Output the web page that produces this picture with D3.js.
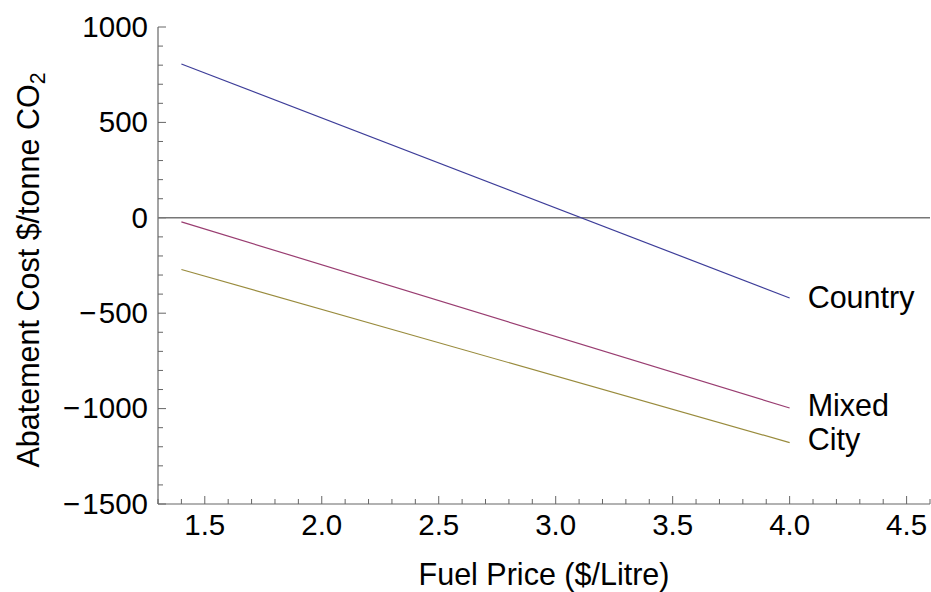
<!DOCTYPE html>
<html>
<head>
<meta charset="utf-8">
<script src="https://cdn.jsdelivr.net/npm/d3@7"></script>
<style>
  html, body { margin: 0; padding: 0; background: #fff; }
  svg { display: block; font-family: "Liberation Sans", Arial, sans-serif; }
</style>
</head>
<body>
<svg id="chart" width="931" height="592"></svg>
<script>
// Abatement cost against fuel price for three driving cycles
const fuelPrice = [1.4, 4.0];
const countryCost = [806, -420];
const mixedCost = [-21, -997];
const cityCost = [-271, -1178];
const seriesNames = ["Country", "Mixed", "City"];
const seriesColors = ["#3d3d99", "#993d71", "#998b3d"];

const xTicks = [1.5, 2.0, 2.5, 3.0, 3.5, 4.0, 4.5];
const yTicks = [1000, 500, 0, -500, -1000, -1500];

const svg = d3.select("#chart");
const x = d3.scaleLinear().domain([1.3, 4.6]).range([158, 930]);
const y = d3.scaleLinear().domain([-1500, 1000]).range([504, 27]);

const axisColor = "#666";
const tickFont = 29.5;
const labelFont = 30.5;

// minor ticks
const xMinor = d3.range(13, 47).map(v => v / 10).filter(v => Math.abs(v * 2 - Math.round(v * 2)) > 1e-9);
const yMinor = d3.range(-1500, 1001, 100).filter(v => v % 500 !== 0);

// x axis
const gx = svg.append("g").attr("transform", `translate(0,${y(-1500)})`);
gx.append("line").attr("x1", x(1.3)).attr("x2", x(4.6)).attr("stroke", axisColor).attr("stroke-width", 1.2);
gx.selectAll("line.major").data(xTicks).join("line")
  .attr("x1", d => x(d)).attr("x2", d => x(d)).attr("y1", 0).attr("y2", -8)
  .attr("stroke", axisColor).attr("stroke-width", 1);
gx.selectAll("line.minor").data(xMinor).join("line")
  .attr("x1", d => x(d)).attr("x2", d => x(d)).attr("y1", 0).attr("y2", -5)
  .attr("stroke", axisColor).attr("stroke-width", 1);
gx.selectAll("text").data(xTicks).join("text")
  .attr("x", d => x(d)).attr("y", 31)
  .attr("text-anchor", "middle")
  .attr("font-size", tickFont)
  .text(d => d3.format(".1f")(d));

// y axis
const gy = svg.append("g").attr("transform", `translate(${x(1.3)},0)`);
gy.append("line").attr("y1", y(-1500)).attr("y2", y(1000)).attr("stroke", axisColor).attr("stroke-width", 1.2);
gy.selectAll("line.major").data(yTicks).join("line")
  .attr("y1", d => y(d)).attr("y2", d => y(d)).attr("x1", 0).attr("x2", 8)
  .attr("stroke", axisColor).attr("stroke-width", 1);
gy.selectAll("line.minor").data(yMinor).join("line")
  .attr("y1", d => y(d)).attr("y2", d => y(d)).attr("x1", 0).attr("x2", 5)
  .attr("stroke", axisColor).attr("stroke-width", 1);
gy.selectAll("text").data(yTicks).join("text")
  .attr("x", -10).attr("y", d => y(d)).attr("dy", "0.33em")
  .attr("text-anchor", "end")
  .attr("font-size", tickFont)
  .text(d => d < 0 ? "\u2212\u200a" + Math.abs(d) : String(d));

// zero reference line
svg.append("line")
  .attr("x1", x(1.3)).attr("x2", x(4.6))
  .attr("y1", y(0)).attr("y2", y(0))
  .attr("stroke", "#777").attr("stroke-width", 1.5);

// series lines
const series = [countryCost, mixedCost, cityCost];
const line = d3.line().x(d => x(d[0])).y(d => y(d[1]));
series.forEach((vals, i) => {
  const pts = fuelPrice.map((p, j) => [p, vals[j]]);
  svg.append("path").datum(pts)
    .attr("d", line)
    .attr("fill", "none")
    .attr("stroke", seriesColors[i])
    .attr("stroke-width", 1.2);
});

// end-of-line labels; Mixed and City are spread apart so they stay clear
const labelNudge = [-1, -3, -3];
series.forEach((vals, i) => {
  const last = vals.length - 1;
  svg.append("text")
    .attr("x", x(fuelPrice[last]) + 18)
    .attr("y", y(vals[last]) + labelNudge[i])
    .attr("dy", "0.35em")
    .attr("font-size", labelFont)
    .text(seriesNames[i]);
});

// axis titles
svg.append("text")
  .attr("x", 544).attr("y", 585)
  .attr("text-anchor", "middle")
  .attr("font-size", labelFont)
  .text("Fuel Price ($/Litre)");

const yt = svg.append("text")
  .attr("transform", "translate(39,270) rotate(-90)")
  .attr("text-anchor", "middle")
  .attr("font-size", labelFont);
yt.append("tspan").text("Abatement Cost $/tonne CO");
yt.append("tspan").attr("font-size", labelFont * 0.7).attr("dy", 6).text("2");
</script>
</body>
</html>
